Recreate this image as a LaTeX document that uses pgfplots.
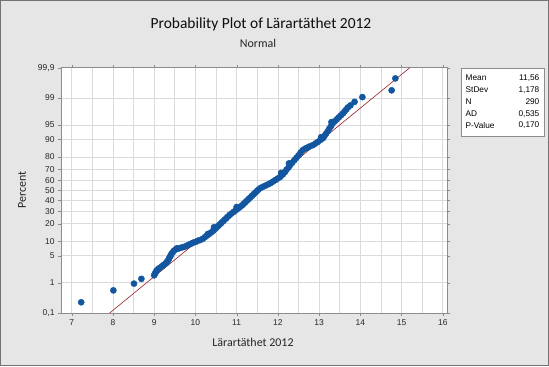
\documentclass[border=0pt]{standalone}
\usepackage{pgfplots}
\pgfplotsset{compat=1.18}
\usepackage{fontspec}
\setmainfont{Carlito}
\newfontfamily\tickfont{Liberation Sans}
\definecolor{bgray}{RGB}{230,230,230}
\definecolor{mblue}{RGB}{18,86,160}
\definecolor{fitred}{RGB}{150,30,40}
\definecolor{gridc}{RGB}{218,218,218}
\begin{document}
\begin{tikzpicture}[x=1bp,y=1bp]
\fill[bgray] (0,0) rectangle (549,366);
\draw[black!55] (0.5,0.5) rectangle (548.5,365.5);
\begin{axis}[
  at={(61bp,53bp)}, anchor=south west,
  scale only axis, width=386.3bp, height=245.3bp,
  xmin=6.74, xmax=16.11, ymin=-3.0902, ymax=3.0902,
  axis background/.style={fill=white},
  axis line style={black!45},
  xtick={7,8,...,16},
  minor xtick={7.5,8.5,...,15.5},
  ytick={-3.0902,-2.3263,-1.6449,-1.2816,-0.8416,-0.5244,-0.2533,0,0.2533,0.5244,0.8416,1.2816,1.6449,2.3263,3.0902},
  yticklabels={{0,1},1,5,10,20,30,40,50,60,70,80,90,95,99,{99,9}},
  xmajorgrids, xminorgrids, ymajorgrids,
  grid style={gridc, line width=0.6bp},
  minor grid style={gridc, line width=0.6bp},
  tick align=outside, major tick length=3bp, minor tick length=0pt,
  tick style={black!45},
  ticklabel style={font=\tickfont\fontsize{8.5}{10}\selectfont, text=black!85},
  /pgf/number format/assume math mode=true,
]
\addplot[fitred, line width=0.6bp] coordinates {(7.92,-3.0902) (15.20,3.0902)};
\addplot[only marks, mark=*, mark size=3.1bp, mblue, mark options={draw=mblue, fill=mblue}] table {
x z
7.23 -2.82
8.01 -2.52
8.51 -2.35
8.69 -2.23
9.00 -2.14
9.02 -2.10
9.04 -2.06
9.06 -2.02
9.10 -1.98
9.14 -1.95
9.19 -1.91
9.24 -1.87
9.28 -1.84
9.31 -1.80
9.34 -1.76
9.36 -1.72
9.38 -1.68
9.40 -1.64
9.42 -1.60
9.45 -1.56
9.48 -1.52
9.52 -1.49
9.55 -1.46
9.58 -1.47
9.64 -1.45
9.70 -1.43
9.76 -1.41
9.82 -1.38
9.88 -1.35
9.94 -1.32
10.00 -1.30
10.06 -1.27
10.12 -1.25
10.18 -1.22
10.23 -1.18
10.28 -1.14
10.30 -1.10
10.33 -1.10
10.38 -1.06
10.43 -1.02
10.47 -0.98
10.45 -0.93
10.51 -0.94
10.55 -0.90
10.59 -0.86
10.63 -0.82
10.67 -0.78
10.71 -0.74
10.75 -0.70
10.79 -0.66
10.83 -0.62
10.88 -0.58
10.93 -0.54
10.98 -0.50
11.03 -0.46
11.00 -0.42
11.08 -0.42
11.13 -0.38
11.17 -0.34
11.21 -0.30
11.25 -0.26
11.29 -0.22
11.33 -0.18
11.37 -0.14
11.41 -0.10
11.45 -0.06
11.49 -0.02
11.53 0.02
11.58 0.06
11.64 0.09
11.70 0.12
11.76 0.15
11.82 0.18
11.88 0.22
11.94 0.26
12.00 0.30
12.06 0.34
12.12 0.40
12.08 0.44
12.17 0.46
12.21 0.52
12.26 0.58
12.30 0.64
12.27 0.68
12.35 0.70
12.40 0.76
12.45 0.82
12.50 0.88
12.55 0.95
12.60 1.01
12.66 1.05
12.72 1.08
12.78 1.11
12.85 1.14
12.91 1.18
12.97 1.22
13.03 1.27
13.09 1.31
13.05 1.34
13.13 1.37
13.17 1.43
13.21 1.49
13.25 1.56
13.29 1.62
13.33 1.69
13.30 1.72
13.38 1.74
13.43 1.79
13.48 1.84
13.53 1.89
13.58 1.94
13.62 1.99
13.66 2.04
13.70 2.09
13.76 2.14
13.86 2.23
14.05 2.35
14.76 2.52
14.85 2.82
};
\end{axis}
\node[font=\fontsize{15.5}{18}\selectfont, text=black!95] at (261,341.5) {Probability Plot of Lärartäthet 2012};
\node[font=\fontsize{12}{14}\selectfont, text=black!85] at (258,323) {Normal};
\node[font=\fontsize{12}{14}\selectfont, text=black!85] at (253,23.3) {Lärartäthet 2012};
\node[font=\fontsize{12}{14}\selectfont, text=black!85, rotate=90] at (22,176) {Percent};
\draw[black!45, fill=white] (460.7,298.3) rectangle (544.3,230.3);
\begin{scope}[font=\tickfont\fontsize{8.3}{9}\selectfont]
\node[anchor=west, inner sep=0pt] at (465.5,288.3) {Mean};
\node[anchor=west, inner sep=0pt] at (465.5,276.3) {StDev};
\node[anchor=west, inner sep=0pt] at (465.5,264.3) {N};
\node[anchor=west, inner sep=0pt] at (465.5,252.3) {AD};
\node[anchor=west, inner sep=0pt] at (465.5,240.7) {P-Value};
\node[anchor=east, inner sep=0pt] at (539.5,288.3) {11,56};
\node[anchor=east, inner sep=0pt] at (539.5,276.3) {1,178};
\node[anchor=east, inner sep=0pt] at (539.5,264.3) {290};
\node[anchor=east, inner sep=0pt] at (539.5,252.3) {0,535};
\node[anchor=east, inner sep=0pt] at (539.5,240.7) {0,170};
\end{scope}
\end{tikzpicture}
\end{document}
